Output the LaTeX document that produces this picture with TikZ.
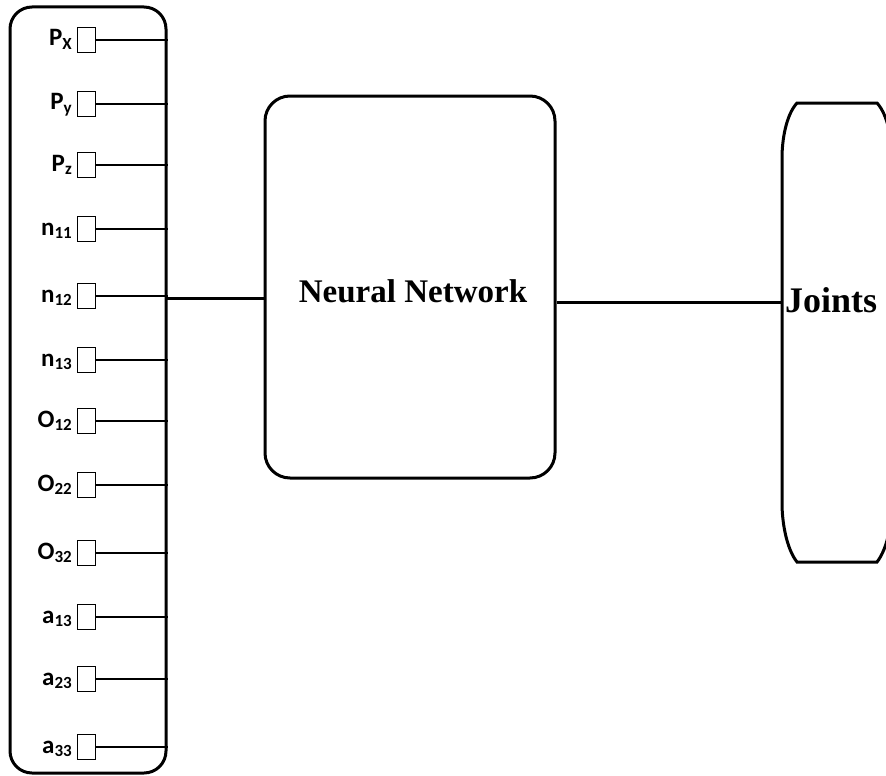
\documentclass[tikz,border=0pt]{standalone}
\usepackage{fontspec}
\setmainfont{Liberation Serif}
\newfontfamily\labfont{Carlito}
\newcommand{\inlab}[2]{{\labfont\bfseries\fontsize{25}{25}\selectfont #1}{\labfont\bfseries\fontsize{17}{17}\selectfont\raisebox{-3.5pt}{#2}}}
\begin{document}
\begin{tikzpicture}[x=1pt,y=-1pt,
  bigbox/.style={draw, line width=3pt, rounded corners=22pt, inner sep=0pt},
  inbox/.style={draw, line width=1pt, minimum width=18pt, minimum height=25pt, inner sep=0pt},
  thinwire/.style={line width=1.2pt},
  thickwire/.style={line width=3pt},
  lab/.style={anchor=base east, inner sep=0pt},
  title/.style={font=\bfseries\fontsize{33}{33}\selectfont, inner sep=0pt}]
\useasboundingbox (0,0) rectangle (886,776);
% left input box
\node[bigbox, minimum width=156pt, minimum height=766pt] (L) at (88,390) {};
\foreach \yy/\m/\s [count=\i] in {40/P/X, 104/P/y, 165/P/z, 229/n/11, 296/n/12, 360/n/13, 421/O/12, 485/O/22, 553/O/32, 617/a/13, 679/a/23, 747/a/33}{
  \node[inbox] (b\i) at (86,\yy) {};
  \draw[thinwire] (b\i.east) -- (b\i.east -| L.east);
  \node[lab] (t\i) at (72,\yy+6) {\inlab{\m}{\s}};
}
% neural network box
\node[bigbox, rounded corners=25pt, minimum width=290pt, minimum height=382pt] (NN) at (410,287) {};
\node[title] (nnlabel) at (413,291) {Neural Network};
% joints shape
\draw[thickwire] (797,103) -- (877,103)
  .. controls (888,115) and (892,140) .. (892,158) -- (892,503)
  .. controls (892,521) and (888,548) .. (877,562) -- (797,562)
  .. controls (786,548) and (782,521) .. (782,503) -- (782,158)
  .. controls (782,140) and (786,115) .. cycle;
\coordinate (J) at (782,302);
\node[title, font=\bfseries\fontsize{36}{36}\selectfont, anchor=west] (jlabel) at (785,300) {Joints};
% connectors
\coordinate (c1) at (167,298);
\draw[thickwire] (c1) -- (c1 -| NN.west);
\draw[thickwire] (NN.east |- J) -- (J);
\end{tikzpicture}
\end{document}
